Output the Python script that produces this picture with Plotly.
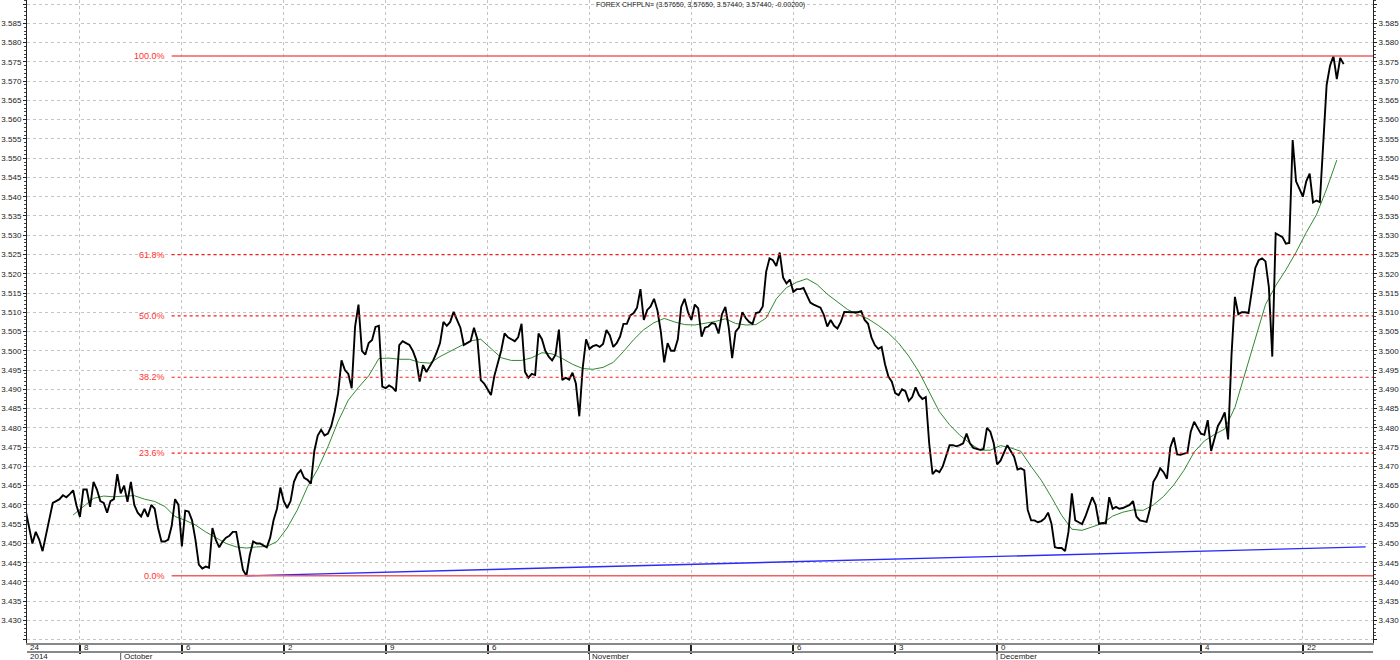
import pandas as pd
import plotly.graph_objects as go

# ---------------- data ----------------
title_text = "FOREX CHFPLN= (3.57650, 3.57650, 3.57440, 3.57440, -0.00200)"
start_time = "2014-09-24 08:00"   # first 4-hour bar
bar_freq = "4h"

close = [
    3.4587, 3.4540, 3.4500, 3.4530, 3.4510, 3.4480, 3.4520, 3.4560, 3.4605, 3.4610, 3.4615, 3.4625, 3.4620, 3.4628, 3.4638, 3.4598,
    3.4569, 3.4640, 3.4640, 3.4595, 3.4660, 3.4640, 3.4610, 3.4605, 3.4580, 3.4610, 3.4615, 3.4680, 3.4630, 3.4650, 3.4608, 3.4660, 3.4600, 3.4580, 3.4570, 3.4590, 3.4569, 3.4600, 3.4590, 3.4540, 3.4505, 3.4505, 3.4510, 3.4545, 3.4615, 3.4600,
    3.4492, 3.4585, 3.4583, 3.4560, 3.4510, 3.4445, 3.4435, 3.4440, 3.4437, 3.4540, 3.4509, 3.4490, 3.4505, 3.4515, 3.4520, 3.4530, 3.4530, 3.4480, 3.4431, 3.4416, 3.4470, 3.4505, 3.4500, 3.4500, 3.4495, 3.4490, 3.4515, 3.4560, 3.4590, 3.4645,
    3.4610, 3.4592, 3.4610, 3.4660, 3.4680, 3.4690, 3.4670, 3.4665, 3.4655, 3.4740, 3.4780, 3.4795, 3.4780, 3.4785, 3.4805, 3.4842, 3.4890, 3.4975, 3.4950, 3.4940, 3.4903, 3.5063, 3.5120, 3.5000, 3.4990, 3.5020, 3.5028, 3.5062, 3.5065, 3.4907,
    3.4903, 3.4910, 3.4905, 3.4895, 3.5015, 3.5025, 3.5020, 3.5015, 3.5000, 3.4976, 3.4920, 3.4963, 3.4945, 3.4960, 3.4975, 3.4995, 3.5020, 3.5075, 3.5065, 3.5075, 3.5101, 3.5080, 3.5060, 3.5015, 3.5020, 3.5025, 3.5060, 3.5030, 3.4924, 3.4915,
    3.4900, 3.4885, 3.4935, 3.4970, 3.5000, 3.5045, 3.5035, 3.5030, 3.5025, 3.5035, 3.5070, 3.4946, 3.4930, 3.4940, 3.4937, 3.5045, 3.5030, 3.5000, 3.4985, 3.4975, 3.4990, 3.5055, 3.4924, 3.4930, 3.4925, 3.4943, 3.4915, 3.4830, 3.4955, 3.5030,
    3.5005, 3.5012, 3.5015, 3.5010, 3.5018, 3.5054, 3.5040, 3.5010, 3.5020, 3.5037, 3.5070, 3.5070, 3.5092, 3.5098, 3.5112, 3.5160, 3.5080, 3.5106, 3.5115, 3.5135, 3.5105, 3.5050, 3.4970, 3.5020, 3.5000, 3.5000, 3.5030, 3.5114, 3.5135, 3.5100,
    3.5080, 3.5120, 3.5110, 3.5037, 3.5060, 3.5063, 3.5072, 3.5070, 3.5045, 3.5095, 3.5114, 3.5060, 3.4981, 3.5050, 3.5060, 3.5100, 3.5085, 3.5075, 3.5070, 3.5098, 3.5100, 3.5115, 3.5205, 3.5240, 3.5235, 3.5220, 3.5255, 3.5190, 3.5175, 3.5185,
    3.5153, 3.5160, 3.5160, 3.5163, 3.5145, 3.5125, 3.5120, 3.5115, 3.5112, 3.5093, 3.5063, 3.5080, 3.5065, 3.5058, 3.5075, 3.5101, 3.5100, 3.5100, 3.5100, 3.5100, 3.5103, 3.5080, 3.5070, 3.5035, 3.5015, 3.5005, 3.5010, 3.4965, 3.4933, 3.4920,
    3.4890, 3.4885, 3.4900, 3.4895, 3.4870, 3.4880, 3.4905, 3.4885, 3.4875, 3.4880, 3.4760, 3.4680, 3.4690, 3.4685, 3.4700, 3.4725, 3.4755, 3.4755, 3.4752, 3.4755, 3.4760, 3.4785, 3.4760, 3.4748, 3.4745, 3.4743, 3.4745, 3.4800, 3.4790, 3.4760,
    3.4705, 3.4715, 3.4735, 3.4755, 3.4740, 3.4725, 3.4692, 3.4695, 3.4690, 3.4587, 3.4560, 3.4560, 3.4555, 3.4558, 3.4565, 3.4580, 3.4551, 3.4490, 3.4488, 3.4488, 3.4480, 3.4530, 3.4630, 3.4560, 3.4555, 3.4550, 3.4570, 3.4595, 3.4620, 3.4600,
    3.4551, 3.4553, 3.4552, 3.4620, 3.4590, 3.4595, 3.4590, 3.4592, 3.4595, 3.4600, 3.4610, 3.4570, 3.4560, 3.4558, 3.4556, 3.4590, 3.4660, 3.4675, 3.4695, 3.4685, 3.4668, 3.4750, 3.4775, 3.4731, 3.4730, 3.4733, 3.4735, 3.4790, 3.4816, 3.4800,
    3.4785, 3.4782, 3.4820, 3.4740, 3.4770, 3.4805, 3.4820, 3.4840, 3.4770, 3.4990, 3.5140, 3.5095, 3.5100, 3.5100, 3.5098, 3.5160, 3.5215, 3.5235, 3.5240, 3.5232, 3.5165, 3.4985, 3.5305, 3.5300, 3.5295, 3.5278, 3.5280, 3.5547, 3.5440, 3.5420,
    3.5400, 3.5440, 3.5460, 3.5385, 3.5390, 3.5386, 3.5525, 3.5690, 3.5740, 3.5765, 3.5705, 3.5760, 3.5744,
]

# moving average (green), one value every 12 trading hours, starting at bar 14
ma_first_bar = 14
ma_every = 3
moving_avg = [
    3.4574, 3.4595, 3.4617, 3.4623, 3.4621, 3.4623, 3.4624, 3.4615, 3.4609, 3.4596,
    3.4570, 3.4560, 3.4548, 3.4530, 3.4514, 3.4500, 3.4491, 3.4488, 3.4491, 3.4492,
    3.4505, 3.4540, 3.4587, 3.4647, 3.4693, 3.4751, 3.4817, 3.4872, 3.4905, 3.4935,
    3.4980, 3.4981, 3.4978, 3.4978, 3.4970, 3.4968, 3.4985, 3.4999, 3.5013, 3.5026,
    3.5030, 3.5005, 3.4982, 3.4975, 3.4975, 3.4982, 3.4995, 3.4992, 3.4980, 3.4965,
    3.4954, 3.4952, 3.4957, 3.4970, 3.4998, 3.5029, 3.5055, 3.5073, 3.5084, 3.5075,
    3.5068, 3.5067, 3.5072, 3.5076, 3.5083, 3.5071, 3.5067, 3.5068, 3.5085, 3.5135,
    3.5164, 3.5178, 3.5187, 3.5172, 3.5147, 3.5126, 3.5107, 3.5094, 3.5083, 3.5066,
    3.5046, 3.5020, 3.4986, 3.4945, 3.4894, 3.4842, 3.4808, 3.4781, 3.4760, 3.4742,
    3.4742, 3.4754, 3.4748, 3.4739, 3.4700, 3.4664, 3.4620, 3.4573, 3.4537, 3.4534,
    3.4543, 3.4552, 3.4571, 3.4581, 3.4587, 3.4586, 3.4600, 3.4622, 3.4652, 3.4690,
    3.4737, 3.4766, 3.4783, 3.4797, 3.4853, 3.4940, 3.5030, 3.5120, 3.5169, 3.5210,
    3.5256, 3.5307, 3.5353, 3.5420, 3.5495,
]

# Fibonacci retracement (red)
fib_low = 3.4416
fib_high = 3.5765
fib_pcts = [0.0, 23.6, 38.2, 50.0, 61.8, 100.0]
fib_labels = ["0.0%", "23.6%", "38.2%", "50.0%", "61.8%", "100.0%"]
fib_start = "2014-10-03 12:00"

# trend line (blue)
trend_x = ["2014-10-09 04:00", "2014-12-25 02:00"]
trend_y = [3.4416, 3.4491]

# axes
x_range = ["2014-09-24 09:40", "2014-12-25 10:36"]
y_range = [3.42416, 3.59105]
y_ticks = [round(3.425 + 0.005 * i, 3) for i in range(34)]
week_ticks = ["2014-09-29", "2014-10-06", "2014-10-13", "2014-10-20", "2014-10-27",
              "2014-11-03", "2014-11-10", "2014-11-17", "2014-11-24", "2014-12-01",
              "2014-12-08", "2014-12-15", "2014-12-22"]
week_labels = ["8", "6", "2", "9", "6", "", "", "6", "3", "0", "", "4", "22"]
first_label = "24"
month_dates = ["2014-10-01", "2014-11-03", "2014-12-01"]
month_labels = ["October", "November", "December"]
year_label = "2014"

# ---------------- build ----------------
ts = pd.date_range(start_time, periods=3000, freq=bar_freq)
ts = ts[ts.dayofweek < 5][:len(close)]
ma_times = ts[ma_first_bar::ma_every][:len(moving_avg)]

FONT = "Liberation Sans, Arial, sans-serif"
fig = go.Figure()

fig.add_trace(go.Scatter(x=ma_times, y=moving_avg, mode="lines",
                         line=dict(color="#2f8a2f", width=1), hoverinfo="skip"))
fig.add_trace(go.Scatter(x=trend_x, y=trend_y, mode="lines",
                         line=dict(color="#2a2aff", width=1.4), hoverinfo="skip"))
fig.add_trace(go.Scatter(x=ts, y=close, mode="lines",
                         line=dict(color="#000000", width=1.9)))
# invisible copy to activate the right-hand price axis
fig.add_trace(go.Scatter(x=ts, y=close, mode="lines", yaxis="y2",
                         line=dict(color="rgba(0,0,0,0)", width=0), hoverinfo="skip"))

span = fib_high - fib_low
for pct, lab in zip(fib_pcts, fib_labels):
    lvl = fib_low + span * pct / 100.0
    solid = pct in (0.0, 100.0)
    fig.add_shape(type="line", xref="x", yref="y", x0=fib_start, x1=x_range[1],
                  y0=lvl, y1=lvl,
                  line=dict(color="#f06060" if solid else "#ff1a1a",
                            width=1.6 if solid else 1.2,
                            dash="solid" if solid else "dot"))
    fig.add_annotation(x=fib_start, y=lvl, xref="x", yref="y", text=lab,
                       showarrow=False, xanchor="right", xshift=-5,
                       font=dict(family=FONT, size=9, color="#ff3030"))

fig.add_annotation(x=0.5, y=1, xref="paper", yref="paper", text=title_text,
                   showarrow=False, yanchor="top", yshift=1,
                   font=dict(family=FONT, size=7, color="#222"))

# date strip
row1_y = -0.007
row2_y = -0.021
strip_font = dict(family=FONT, size=8, color="#222")
fig.add_annotation(x=x_range[0], y=row1_y, xref="x", yref="paper", text=first_label,
                   showarrow=False, xanchor="left", xshift=1, yshift=-6, font=strip_font)
for d, lab in zip(week_ticks, week_labels):
    if lab:
        fig.add_annotation(x=d, y=row1_y, xref="x", yref="paper", text=lab,
                           showarrow=False, xanchor="left", xshift=2, yshift=-6,
                           font=strip_font)
fig.add_annotation(x=x_range[0], y=row2_y, xref="x", yref="paper", text=year_label,
                   showarrow=False, xanchor="left", xshift=1, yshift=-6, font=strip_font)
for d, lab in zip(month_dates, month_labels):
    fig.add_annotation(x=d, y=row2_y, xref="x", yref="paper", text=lab,
                       showarrow=False, xanchor="left", xshift=1, yshift=-6,
                       font=strip_font)
    fig.add_shape(type="line", xref="x", yref="paper", x0=d, x1=d, y0=-0.014, y1=-0.028,
                  line=dict(color="#555", width=1))
fig.add_shape(type="line", xref="paper", yref="paper", x0=0, x1=1, y0=-0.014, y1=-0.014,
              line=dict(color="#888", width=2))

axis_font = dict(family=FONT, size=8, color="#222")
yaxis_common = dict(
    range=y_range, tickmode="array", tickvals=y_ticks,
    ticktext=["" if v in (3.425, 3.59) else f"{v:.3f}" for v in y_ticks],
    ticks="outside", ticklen=3, tickcolor="#222", tickfont=axis_font,
    showline=True, linecolor="#222", linewidth=1,
    minor=dict(ticks="outside", ticklen=2, tickcolor="#444", dtick=0.001,
               tick0=3.425, showgrid=False),
    zeroline=False, automargin=False, fixedrange=True,
)
fig.update_layout(
    width=1400, height=660,
    margin=dict(l=27, r=27, t=0, b=17),
    paper_bgcolor="white", plot_bgcolor="white",
    showlegend=False,
    xaxis=dict(
        range=x_range, rangebreaks=[dict(bounds=["sat", "mon"])],
        tickmode="array", tickvals=week_ticks, showticklabels=False,
        ticks="outside", ticklen=9, tickwidth=2, tickcolor="#222",
        showgrid=True, gridcolor="#c4c4c4", griddash="dot", gridwidth=1,
        showline=True, linecolor="#888", linewidth=2,
        zeroline=False, automargin=False,
    ),
    yaxis=dict(**yaxis_common, side="left", showgrid=True,
               gridcolor="#c4c4c4", griddash="dot", gridwidth=1),
    yaxis2=dict(**yaxis_common, side="right", overlaying="y", showgrid=False),
)

# remove the browser's default 8px page margin so the figure fills the window
fig.write_html("out.html",
               config={"displayModeBar": False},
               post_script="document.body.style.margin='0';document.body.style.overflow='hidden';")
